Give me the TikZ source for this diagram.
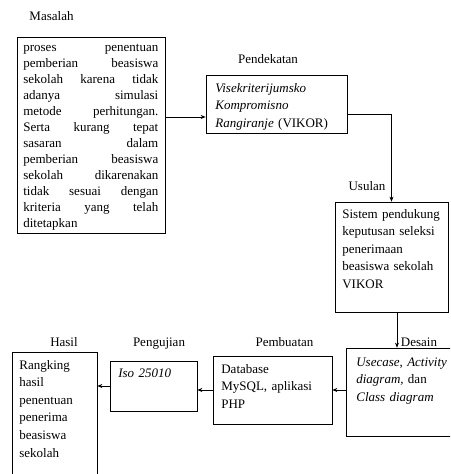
\documentclass[tikz,border=0pt]{standalone}
\usepackage{fontspec}
\setmainfont{Liberation Serif}
\usetikzlibrary{arrows.meta}

\tikzset{
  box/.style={draw, line width=0.7pt, inner sep=0pt},
  isi/.style={inner sep=0pt, anchor=base west, align=left, font=\fontsize{13}{17.6}\selectfont},
  judul/.style={inner sep=0pt, anchor=base, font=\fontsize{13}{15}\selectfont},
}

\begin{document}
\begin{tikzpicture}[>={Stealth[length=5pt,width=4pt]}, x=1pt, y=-1pt, line width=0.7pt]
  \clip (0,0) rectangle (450,474);
  % Masalah
  \node[judul] (lmasalah) at (51.5,20) {Masalah};
  \node[box, minimum width=148pt, minimum height=196pt] (masalah) at (91,135) {};
  \node[isi, text width=135pt, font=\fontsize{13}{16}\selectfont] (tmasalah) at (23,51)
    {proses\hfill penentuan\\
     pemberian\hfill beasiswa\\
     sekolah\hfill karena\hfill tidak\\
     adanya\hfill simulasi\\
     metode\hfill perhitungan.\\
     Serta\hfill kurang\hfill tepat\\
     sasaran\hfill dalam\\
     pemberian\hfill beasiswa\\
     sekolah\hfill dikarenakan\\
     tidak\hfill sesuai\hfill dengan\\
     kriteria\hfill yang\hfill telah\\
     ditetapkan};
  % Pendekatan
  \node[judul] (lpendekatan) at (268,63.5) {Pendekatan};
  \node[box, minimum width=141pt, minimum height=58pt] (pendekatan) at (276.5,104) {};
  \node[isi, text width=130pt] (tpendekatan) at (215,92)
    {\textit{Visekriterijumsko}\\ \textit{Kompromisno}\\ \textit{Rangiranje} (VIKOR)};
  % Usulan
  \node[judul] (lusulan) at (367,190) {Usulan};
  \node[box, minimum width=113pt, minimum height=110pt] (usulan) at (391.5,257) {};
  \node[isi, text width=110pt] (tusulan) at (342,218)
    {Sistem pendukung\\ keputusan seleksi\\ penerimaan\\ beasiswa sekolah\\ VIKOR};
  % Desain
  \node[judul] (ldesain) at (419,346) {Desain};
  \node[box, minimum width=124pt, minimum height=88pt] (desain) at (408,392) {};
  \node[isi, text width=110pt] (tdesain) at (356,366)
    {\textit{Usecase}, \textit{Activity}\\ \textit{diagram,} dan\\ \textit{Class diagram}};
  % Pembuatan
  \node[judul] (lpembuatan) at (284.5,346) {Pembuatan};
  \node[box, minimum width=119pt, minimum height=68pt] (pembuatan) at (272.5,390) {};
  \node[isi, text width=105pt] (tpembuatan) at (221,373)
    {Database\\ MySQL, aplikasi\\ PHP};
  % Pengujian
  \node[judul] (lpengujian) at (159,346) {Pengujian};
  \node[box, minimum width=87pt, minimum height=50pt] (pengujian) at (153.5,386) {};
  \node[isi, text width=75pt] (tpengujian) at (118,377) {\textit{Iso 25010}};
  % Hasil
  \node[judul] (lhasil) at (64,346) {Hasil};
  \node[box, minimum width=85pt, minimum height=148pt] (hasil) at (54.5,426) {};
  \node[isi, text width=75pt] (thasil) at (19,369)
    {Rangking\\ hasil\\ penentuan\\ penerima\\ beasiswa\\ sekolah};
  % Panah
  \coordinate (pmasuk) at ([yshift=-13pt]pendekatan.west);
  \draw[->] (masalah.east |- pmasuk) -- (pmasuk);
  \draw[->] ([yshift=-10pt]pendekatan.east) -| (usulan.north);
  \coordinate (ukeluar) at ([xshift=5.5pt]usulan.south);
  \draw[->] (ukeluar) -- (ukeluar |- desain.north);
  \draw[->] (desain.west |- pembuatan.east) -- (pembuatan.east);
  \draw[->] (pembuatan.west) -- (pembuatan.west -| pengujian.east);
  \draw[->] (pengujian.west) -- (pengujian.west -| hasil.east);
\end{tikzpicture}
\end{document}
